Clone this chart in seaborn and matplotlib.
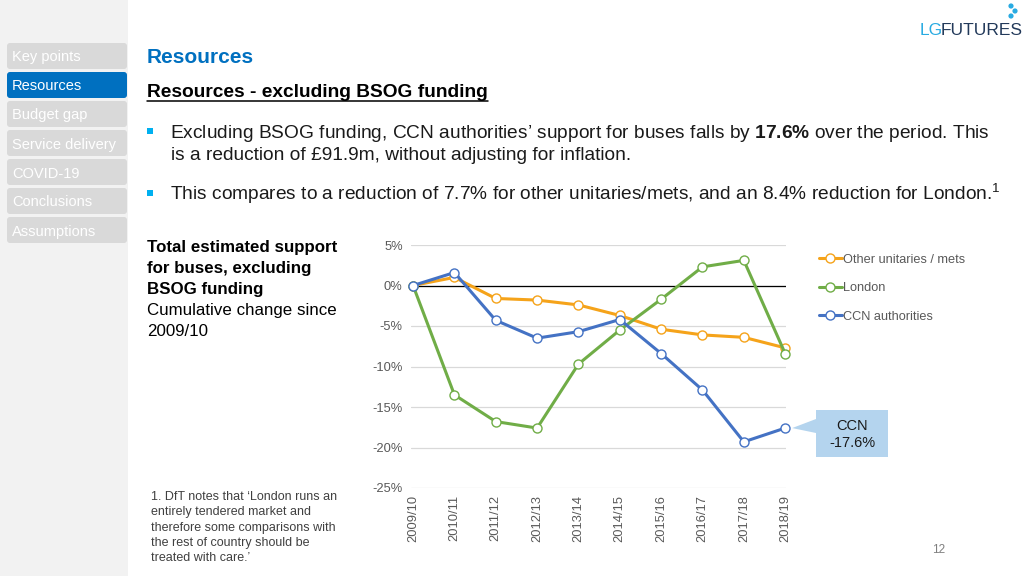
import matplotlib
matplotlib.use("Agg")
import matplotlib.pyplot as plt
import matplotlib.patches as mpatches
from matplotlib.lines import Line2D
from matplotlib.transforms import IdentityTransform
import pandas as pd
import seaborn as sns

# ---- data ----
years = ["2009/10", "2010/11", "2011/12", "2012/13", "2013/14",
         "2014/15", "2015/16", "2016/17", "2017/18", "2018/19"]
other_mets = [0.0, 1.0, -1.6, -1.8, -2.4, -3.7, -5.4, -6.1, -6.4, -7.7]
london = [0.0, -13.5, -16.8, -17.6, -9.7, -5.5, -1.7, 2.3, 3.1, -8.4]
ccn = [0.0, 1.6, -4.3, -6.5, -5.7, -4.2, -8.4, -12.9, -19.3, -17.6]
series_names = ["Other unitaries / mets", "London", "CCN authorities"]
series_colors = ["#f5a31a", "#70ad47", "#4472c4"]
y_ticks = [5, 0, -5, -10, -15, -20, -25]
nav_items = ["Key points", "Resources", "Budget gap", "Service delivery",
             "COVID-19", "Conclusions", "Assumptions"]
active_nav = "Resources"

W, H = 1024, 576
sns.set_style("white")
plt.rcParams["font.family"] = ["Liberation Sans", "DejaVu Sans"]
plt.rcParams["mathtext.fontset"] = "custom"
plt.rcParams["mathtext.rm"] = "Liberation Sans"
plt.rcParams["mathtext.bf"] = "Liberation Sans:bold"


def fx(x):
    return x / W


def fy(y):
    return 1 - y / H


fig = plt.figure(figsize=(W / 100, H / 100), dpi=100)
fig.patch.set_facecolor("white")
ident = IdentityTransform()

# ---- sidebar ----
fig.add_artist(mpatches.Rectangle((0, 0), 128, H, transform=ident,
                                  fc="#f2f2f2", ec="none"))
for i, item in enumerate(nav_items):
    top = 43 + 29 * i
    fc = "#0070c0" if item == active_nav else "#d9d9d9"
    fig.add_artist(mpatches.FancyBboxPatch(
        (7, H - top - 26), 120, 26, boxstyle="round,pad=0,rounding_size=3",
        transform=ident, fc=fc, ec="none"))
    fig.text(fx(12), fy(top + 18.5), item, fontsize=10.5, color="white",
             va="baseline")

# ---- header ----
fig.text(fx(147), fy(63), "Resources", fontsize=15, fontweight="bold",
         color="#0070c0", va="baseline")
sub = fig.text(fx(147), fy(97), "Resources - excluding BSOG funding",
               fontsize=13.8, fontweight="bold", color="black", va="baseline")
r = fig.canvas.get_renderer()
bb = sub.get_window_extent(r)
fig.add_artist(Line2D([bb.x0, bb.x1], [H - 100.5, H - 100.5], transform=ident,
                      color="black", lw=1.1))

# logo
lg = fig.text(fx(920), fy(35), "LG", fontsize=12.5, color="#29abe2", va="baseline")
lb = lg.get_window_extent(r)
fig.text((lb.x1 - 2) / W, fy(35), "FUTURES", fontsize=12.5, color="#22395a",
         va="baseline")
for (dx, dy) in [(1011, 6), (1015, 11), (1011, 16)]:
    fig.add_artist(mpatches.Circle((dx, H - dy), 2.6, transform=ident,
                                   fc="#29abe2", ec="none"))

# bullets
for by in [131, 193]:
    fig.add_artist(mpatches.Rectangle((147, H - by - 3), 6, 6, transform=ident,
                                      fc="#00b0f0", ec="none"))
body = dict(fontsize=13.8, color="#1a1a1a", va="baseline")
fig.text(fx(170), fy(137.5),
         r"Excluding BSOG funding, CCN authorities’ support for buses falls by "
         r"$\mathbf{17.6\%}$ over the period. This", **body)
fig.text(fx(171), fy(160), "is a reduction of £91.9m, without adjusting for inflation.",
         **body)
fig.text(fx(170), fy(199.5),
         r"This compares to a reduction of 7.7% for other unitaries/mets, and an "
         r"8.4% reduction for London.$^{1}$", **body)

# chart caption
cap_lines = [("Total estimated support", "bold", 252), ("for buses, excluding", "bold", 273.5),
             ("BSOG funding", "bold", 294), ("Cumulative change since", "normal", 315),
             ("2009/10", "normal", 335.5)]
for txt, w, yb in cap_lines:
    fig.text(fx(147), fy(yb), txt, fontsize=12.2, fontweight=w, color="black",
             va="baseline")

# footnote
foot = ["1. DfT notes that ‘London runs an", "entirely tendered market and",
        "therefore some comparisons with", "the rest of country should be",
        "treated with care.’"]
for i, line in enumerate(foot):
    fig.text(fx(151), fy(500 + 15.3 * i), line, fontsize=9, color="#404040",
             va="baseline")
fig.text(fx(932), fy(553), "12", fontsize=8.5, color="#7f7f7f", va="baseline")

# ---- chart ----
ax = fig.add_axes([fx(411), fy(488), (786 - 411) / W, (488 - 245) / H])
df = pd.DataFrame({
    "pos": list(range(len(years))) * 3,
    "pct": other_mets + london + ccn,
    "series": sum([[n] * len(years) for n in series_names], []),
})
sns.lineplot(data=df, x="pos", y="pct", hue="series", hue_order=series_names,
             palette=series_colors, marker="o", markersize=6.5, lw=2.2,
             legend=False, ax=ax, clip_on=False, zorder=3)
for line in ax.lines:
    line.set_markerfacecolor("white")
    line.set_markeredgecolor(line.get_color())
    line.set_markeredgewidth(1.0)

ax.axhline(0, color="black", lw=0.9, zorder=2)
ax.set_xlim(-0.05, 9.02)
ax.set_ylim(-25, 5)
ax.set_yticks(y_ticks)
ax.set_yticklabels([f"{t}%" for t in y_ticks])
ax.set_xticks(range(len(years)))
ax.set_xticklabels(years, rotation=90)
ax.tick_params(axis="y", length=0, pad=6, labelsize=9.3, labelcolor="#595959")
ax.tick_params(axis="x", length=0, pad=5, labelsize=9.3, labelcolor="#595959")
ax.grid(axis="y", color="#d9d9d9", lw=0.9)
ax.set_xlabel("")
ax.set_ylabel("")
for s in ax.spines.values():
    s.set_visible(False)

handles = [Line2D([], [], color=c, lw=2.2, marker="o", markersize=6.5,
                  markerfacecolor="white", markeredgecolor=c, markeredgewidth=1.0)
           for c in series_colors]
fig.legend(handles, series_names, loc="upper left",
           bbox_to_anchor=(fx(807), fy(242)), frameon=False, fontsize=9.2,
           labelcolor="#595959", handlelength=1.85, handletextpad=0.1,
           labelspacing=1.3, borderpad=0.4)

# callout for CCN final value
tip = ax.transData.transform((len(years) - 1, ccn[-1]))
fig.add_artist(mpatches.Polygon(
    [(816, H - 410), (888, H - 410), (888, H - 457), (816, H - 457),
     (816, H - 433), (tip[0] + 7, tip[1]), (816, H - 419)],
    closed=True, transform=ident, fc="#b4d4ee", ec="none"))
fig.text(fx(852), fy(426), "CCN", fontsize=10.5, color="#1a1a1a",
         ha="center", va="center")
fig.text(fx(852), fy(443), f"{ccn[-1]:.1f}%", fontsize=10.5, color="#1a1a1a",
         ha="center", va="center")

fig.savefig("out.png", dpi=100)
